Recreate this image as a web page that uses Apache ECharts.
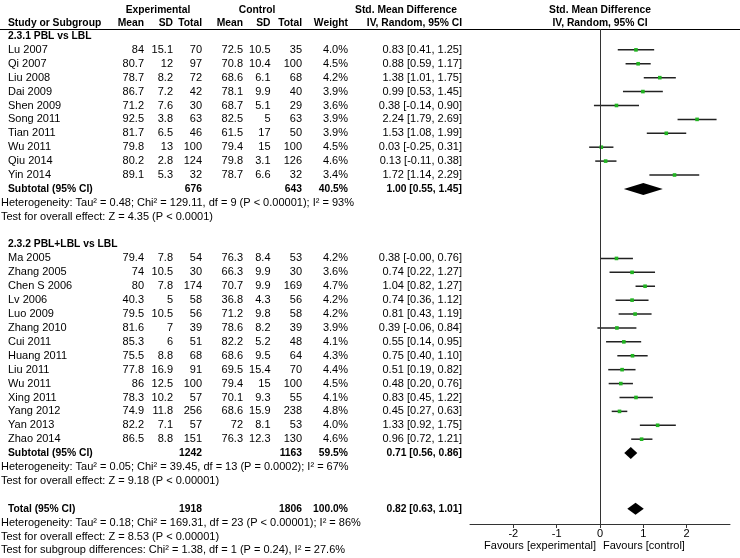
<!DOCTYPE html>
<html><head><meta charset="utf-8">
<script src="https://cdn.jsdelivr.net/npm/echarts@6/dist/echarts.min.js"></script>
<style>html,body{margin:0;padding:0;background:#fff}#c{width:740px;height:558px}</style>
</head><body><div id="c"></div><script>
// ---------- data ----------
const g1Title = '2.3.1 PBL vs LBL';
const g1Names = ['Lu 2007','Qi 2007','Liu 2008','Dai 2009','Shen 2009','Song 2011','Tian 2011','Wu 2011','Qiu 2014','Yin 2014'];
const g1ExpMean = [84, 80.7, 78.7, 86.7, 71.2, 92.5, 81.7, 79.8, 80.2, 89.1];
const g1ExpSD = [15.1, 12, 8.2, 7.2, 7.6, 3.8, 6.5, 13, 2.8, 5.3];
const g1ExpN = [70, 97, 72, 42, 30, 63, 46, 100, 124, 32];
const g1CtlMean = [72.5, 70.8, 68.6, 78.1, 68.7, 82.5, 61.5, 79.4, 79.8, 78.7];
const g1CtlSD = [10.5, 10.4, 6.1, 9.9, 5.1, 5, 17, 15, 3.1, 6.6];
const g1CtlN = [35, 100, 68, 40, 29, 63, 50, 100, 126, 32];
const g1Weight = [4.0, 4.5, 4.2, 3.9, 3.6, 3.9, 3.9, 4.5, 4.6, 3.4];
const g1SMD = [0.83, 0.88, 1.38, 0.99, 0.38, 2.24, 1.53, 0.03, 0.13, 1.72];
const g1Lo = [0.41, 0.59, 1.01, 0.53, -0.14, 1.79, 1.08, -0.25, -0.11, 1.14];
const g1Hi = [1.25, 1.17, 1.75, 1.45, 0.90, 2.69, 1.99, 0.31, 0.38, 2.29];
const g1Sub = {expN: 676, ctlN: 643, weight: 40.5, smd: 1.00, lo: 0.55, hi: 1.45};
const g1Het = 'Heterogeneity: Tau\u00b2 = 0.48; Chi\u00b2 = 129.11, df = 9 (P < 0.00001); I\u00b2 = 93%';
const g1Test = 'Test for overall effect: Z = 4.35 (P < 0.0001)';

const g2Title = '2.3.2 PBL+LBL vs LBL';
const g2Names = ['Ma 2005','Zhang 2005','Chen S 2006','Lv 2006','Luo 2009','Zhang 2010','Cui 2011','Huang 2011','Liu 2011','Wu 2011','Xing 2011','Yang 2012','Yan 2013','Zhao 2014'];
const g2ExpMean = [79.4, 74, 80, 40.3, 79.5, 81.6, 85.3, 75.5, 77.8, 86, 78.3, 74.9, 82.2, 86.5];
const g2ExpSD = [7.8, 10.5, 7.8, 5, 10.5, 7, 6, 8.8, 16.9, 12.5, 10.2, 11.8, 7.1, 8.8];
const g2ExpN = [54, 30, 174, 58, 56, 39, 51, 68, 91, 100, 57, 256, 57, 151];
const g2CtlMean = [76.3, 66.3, 70.7, 36.8, 71.2, 78.6, 82.2, 68.6, 69.5, 79.4, 70.1, 68.6, 72, 76.3];
const g2CtlSD = [8.4, 9.9, 9.9, 4.3, 9.8, 8.2, 5.2, 9.5, 15.4, 15, 9.3, 15.9, 8.1, 12.3];
const g2CtlN = [53, 30, 169, 56, 58, 39, 48, 64, 70, 100, 55, 238, 53, 130];
const g2Weight = [4.2, 3.6, 4.7, 4.2, 4.2, 3.9, 4.1, 4.3, 4.4, 4.5, 4.1, 4.8, 4.0, 4.6];
const g2SMD = [0.38, 0.74, 1.04, 0.74, 0.81, 0.39, 0.55, 0.75, 0.51, 0.48, 0.83, 0.45, 1.33, 0.96];
const g2Lo = [-0, 0.22, 0.82, 0.36, 0.43, -0.06, 0.14, 0.40, 0.19, 0.20, 0.45, 0.27, 0.92, 0.72];
const g2Hi = [0.76, 1.27, 1.27, 1.12, 1.19, 0.84, 0.95, 1.10, 0.82, 0.76, 1.22, 0.63, 1.75, 1.21];
const g2Sub = {expN: 1242, ctlN: 1163, weight: 59.5, smd: 0.71, lo: 0.56, hi: 0.86};
const g2Het = 'Heterogeneity: Tau\u00b2 = 0.05; Chi\u00b2 = 39.45, df = 13 (P = 0.0002); I\u00b2 = 67%';
const g2Test = 'Test for overall effect: Z = 9.18 (P < 0.00001)';

const total = {expN: 1918, ctlN: 1806, weight: 100.0, smd: 0.82, lo: 0.63, hi: 1.01};
const totHet = 'Heterogeneity: Tau\u00b2 = 0.18; Chi\u00b2 = 169.31, df = 23 (P < 0.00001); I\u00b2 = 86%';
const totTest = 'Test for overall effect: Z = 8.53 (P < 0.00001)';
const subDiff = 'Test for subgroup differences: Chi\u00b2 = 1.38, df = 1 (P = 0.24), I\u00b2 = 27.6%';

const xTicks = [-2, -1, 0, 1, 2];
const favLeft = 'Favours [experimental]';
const favRight = 'Favours [control]';

// ---------- layout ----------
const FONT = "11px 'Liberation Sans', Arial, sans-serif";
const BFONT = "bold 10.3px 'Liberation Sans', Arial, sans-serif";
const COL = {name: 8, note: 1, em: 144, es: 173, en: 202, cm: 243, cs: 270.5, cn: 302, w: 348, ci: 462};

function f2(v){ return (Object.is(v, -0) ? '-0.00' : v.toFixed(2)); }
function ciTxt(s, l, h){ return f2(s) + ' [' + f2(l) + ', ' + f2(h) + ']'; }

const rows = [];
const ciData = [];
const diamondData = [];
let r = 0;
function addGroup(title, names, em, es, en, cm, cs, cn, w, s, lo, hi, sub, het, test){
  rows.push({r: r++, cells: [[COL.name, title, 'left', true]]});
  for (let i = 0; i < names.length; i++){
    rows.push({r: r, cells: [
      [COL.name, names[i], 'left'], [COL.em, String(em[i]), 'right'], [COL.es, String(es[i]), 'right'],
      [COL.en, String(en[i]), 'right'], [COL.cm, String(cm[i]), 'right'], [COL.cs, String(cs[i]), 'right'],
      [COL.cn, String(cn[i]), 'right'], [COL.w, w[i].toFixed(1) + '%', 'right'], [COL.ci, ciTxt(s[i], lo[i], hi[i]), 'right']
    ]});
    ciData.push([s[i], lo[i], hi[i], r, w[i]]);
    r++;
  }
  rows.push({r: r, cells: [
    [COL.name, 'Subtotal (95% CI)', 'left', true], [COL.en, String(sub.expN), 'right', true],
    [COL.cn, String(sub.ctlN), 'right', true], [COL.w, sub.weight.toFixed(1) + '%', 'right', true],
    [COL.ci, ciTxt(sub.smd, sub.lo, sub.hi), 'right', true]
  ]});
  diamondData.push([sub.smd, sub.lo, sub.hi, r]);
  r++;
  rows.push({r: r++, cells: [[COL.note, het, 'left']]});
  rows.push({r: r++, cells: [[COL.note, test, 'left']]});
  r++;
}
addGroup(g1Title, g1Names, g1ExpMean, g1ExpSD, g1ExpN, g1CtlMean, g1CtlSD, g1CtlN, g1Weight, g1SMD, g1Lo, g1Hi, g1Sub, g1Het, g1Test);
addGroup(g2Title, g2Names, g2ExpMean, g2ExpSD, g2ExpN, g2CtlMean, g2CtlSD, g2CtlN, g2Weight, g2SMD, g2Lo, g2Hi, g2Sub, g2Het, g2Test);
rows.push({r: r, cells: [
  [COL.name, 'Total (95% CI)', 'left', true], [COL.en, String(total.expN), 'right', true],
  [COL.cn, String(total.ctlN), 'right', true], [COL.w, total.weight.toFixed(1) + '%', 'right', true],
  [COL.ci, ciTxt(total.smd, total.lo, total.hi), 'right', true]
]});
diamondData.push([total.smd, total.lo, total.hi, r]);
r++;
rows.push({r: r++, cells: [[COL.note, totHet, 'left']]});
rows.push({r: r++, cells: [[COL.note, totTest, 'left']]});
rows.push({r: r++, cells: [[COL.note, subDiff, 'left']]});

const chart = echarts.init(document.getElementById('c'), null, {renderer: 'canvas'});

function txt(x, y, s, align, bold){
  return {type: 'text', x: x, y: y, style: {text: s, font: bold ? BFONT : FONT, fill: '#000', align: align, verticalAlign: 'middle'}};
}

const headerGraphics = [
  txt(158, 10, 'Experimental', 'center', true),
  txt(257, 10, 'Control', 'center', true),
  txt(406, 10, 'Std. Mean Difference', 'center', true),
  txt(600, 10, 'Std. Mean Difference', 'center', true),
  txt(COL.name, 23.5, 'Study or Subgroup', 'left', true),
  txt(COL.em, 23.5, 'Mean', 'right', true),
  txt(COL.es, 23.5, 'SD', 'right', true),
  txt(COL.en, 23.5, 'Total', 'right', true),
  txt(COL.cm, 23.5, 'Mean', 'right', true),
  txt(COL.cs, 23.5, 'SD', 'right', true),
  txt(COL.cn, 23.5, 'Total', 'right', true),
  txt(COL.w, 23.5, 'Weight', 'right', true),
  txt(COL.ci, 23.5, 'IV, Random, 95% CI', 'right', true),
  txt(600, 23.5, 'IV, Random, 95% CI', 'center', true),
  {type: 'line', shape: {x1: 0, y1: 29.5, x2: 740, y2: 29.5}, style: {stroke: '#000', lineWidth: 1}}
];

chart.setOption({
  animation: false,
  backgroundColor: '#fff',
  grid: {left: 470, right: 10, top: 29, height: 495, containLabel: false},
  xAxis: {
    type: 'value', min: -3, max: 3, interval: 1, position: 'bottom',
    axisLine: {onZero: false, lineStyle: {color: '#333', width: 1}},
    axisTick: {show: true, length: 4, customValues: xTicks, lineStyle: {color: '#333'}},
    axisLabel: {customValues: xTicks, color: '#000', fontSize: 11, fontFamily: "'Liberation Sans', Arial", margin: 4},
    splitLine: {show: false}
  },
  yAxis: {type: 'value', inverse: true, min: -0.5, max: 35.1, show: false},
  graphic: headerGraphics.concat([
    txt(596, 546, favLeft, 'right', false),
    txt(603, 546, favRight, 'left', false)
  ]),
  series: [{
    type: 'custom', name: 'table', clip: false, silent: true,
    data: rows.map(o => [0, o.r]),
    renderItem: function(params, api){
      const row = rows[params.dataIndex];
      const y = api.coord([0, api.value(1)])[1];
      return {type: 'group', children: row.cells.map(c => txt(c[0], y, c[1], c[2], c[3]))};
    },
    markLine: {
      silent: true, symbol: 'none', label: {show: false},
      lineStyle: {color: '#333', width: 1, type: 'solid'},
      data: [{xAxis: 0}]
    }
  }, {
    type: 'custom', name: 'studies', clip: false, silent: true,
    data: ciData,
    renderItem: function(params, api){
      const row = api.value(3);
      const p = api.coord([api.value(0), row]);
      const a = api.coord([api.value(1), row]);
      const b = api.coord([api.value(2), row]);
      const s = 3.6;
      return {type: 'group', children: [
        {type: 'line', shape: {x1: a[0], y1: a[1], x2: b[0], y2: b[1]}, style: {stroke: '#222', lineWidth: 1.5}},
        {type: 'rect', shape: {x: p[0] - s / 2, y: p[1] - s / 2, width: s, height: s}, style: {fill: '#21b421'}}
      ]};
    }
  }, {
    type: 'custom', name: 'diamonds', clip: false, silent: true,
    data: diamondData,
    renderItem: function(params, api){
      const row = api.value(3);
      const p = api.coord([api.value(0), row]);
      const a = api.coord([api.value(1), row]);
      const b = api.coord([api.value(2), row]);
      const h = 6;
      return {type: 'polygon', shape: {points: [[a[0], p[1]], [p[0], p[1] - h], [b[0], p[1]], [p[0], p[1] + h]]}, style: {fill: '#000'}};
    }
  }]
});
</script></body></html>
